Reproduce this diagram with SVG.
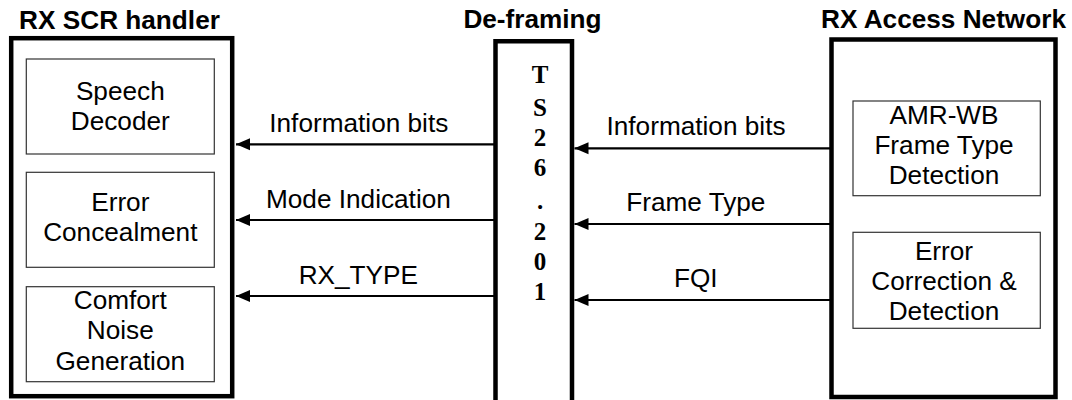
<svg xmlns="http://www.w3.org/2000/svg" width="1072" height="400" viewBox="0 0 1072 400">
<style>
  .outer { fill: #fff; stroke: #000; stroke-width: 4.5; }
  .inner { fill: #fff; stroke: #333; stroke-width: 1.2; }
  .t { font-family: "Liberation Sans", Arial, sans-serif; font-size: 26.2px; fill: #000; text-anchor: middle; }
  .title { font-weight: bold; }
  .v { font-family: "Liberation Serif", "Times New Roman", serif; font-size: 25px; font-weight: bold; fill: #000; text-anchor: middle; }
  .conn { stroke: #000; stroke-width: 2.2; fill: none; marker-end: url(#ah); }
</style>
<defs>
  <marker id="ah" markerUnits="userSpaceOnUse" markerWidth="15" markerHeight="13" refX="14" refY="6.5" orient="auto">
    <path d="M0,0.5 L14,6.5 L0,12.5 z" fill="#000"/>
  </marker>
</defs>
<rect width="1072" height="400" fill="#fff"/>

<g id="rx-scr-handler">
  <text class="t title" x="119.5" y="29">RX SCR handler</text>
  <rect class="outer" x="11.2" y="38.2" width="221" height="358"/>
  <g id="speech-decoder">
    <rect class="inner" x="26.3" y="59" width="188" height="95"/>
    <text class="t" x="120.3" y="100">Speech</text>
    <text class="t" x="120.3" y="130">Decoder</text>
  </g>
  <g id="error-concealment">
    <rect class="inner" x="26.3" y="172.3" width="188" height="95"/>
    <text class="t" x="120.3" y="210.5">Error</text>
    <text class="t" x="120.3" y="240.5">Concealment</text>
  </g>
  <g id="comfort-noise">
    <rect class="inner" x="26.3" y="286.7" width="188" height="95"/>
    <text class="t" x="120.3" y="308.5">Comfort</text>
    <text class="t" x="120.3" y="339">Noise</text>
    <text class="t" x="120.3" y="369.5">Generation</text>
  </g>
</g>

<g id="de-framing">
  <text class="t title" x="532.5" y="28">De-framing</text>
  <path class="outer" d="M495.5,402 V41.2 H572 V402"/>
  <text class="v" x="540" y="83.3">T</text>
  <text class="v" x="540" y="116">S</text>
  <text class="v" x="540" y="146">2</text>
  <text class="v" x="540" y="176">6</text>
  <text class="v" x="540" y="209">.</text>
  <text class="v" x="540" y="240">2</text>
  <text class="v" x="540" y="270">0</text>
  <text class="v" x="540" y="300">1</text>
</g>

<g id="rx-access-network">
  <text class="t title" x="943.5" y="28">RX Access Network</text>
  <rect class="outer" x="831.5" y="39.5" width="224" height="357.5"/>
  <g id="amr-wb-detection">
    <rect class="inner" x="853" y="101" width="187.3" height="94.7"/>
    <text class="t" x="944" y="124">AMR-WB</text>
    <text class="t" x="944" y="154">Frame Type</text>
    <text class="t" x="944" y="184">Detection</text>
  </g>
  <g id="error-correction">
    <rect class="inner" x="853" y="232.3" width="187.3" height="96"/>
    <text class="t" x="944" y="260">Error</text>
    <text class="t" x="944" y="290">Correction &amp;</text>
    <text class="t" x="944" y="320">Detection</text>
  </g>
</g>

<g id="connectors">
  <line class="conn" x1="494" y1="144.3" x2="236" y2="144.3"/>
  <line class="conn" x1="494" y1="220" x2="236" y2="220"/>
  <line class="conn" x1="494" y1="296" x2="236" y2="296"/>
  <line class="conn" x1="830" y1="148.3" x2="574.5" y2="148.3"/>
  <line class="conn" x1="830" y1="224" x2="574.5" y2="224"/>
  <line class="conn" x1="830" y1="300" x2="574.5" y2="300"/>
  <text class="t" x="358.8" y="131.7">Information bits</text>
  <text class="t" x="358.4" y="208.3">Mode Indication</text>
  <text class="t" x="358.3" y="284.3">RX_TYPE</text>
  <text class="t" x="696" y="135">Information bits</text>
  <text class="t" x="695.8" y="211">Frame Type</text>
  <text class="t" x="695.8" y="286.7">FQI</text>
</g>
</svg>
